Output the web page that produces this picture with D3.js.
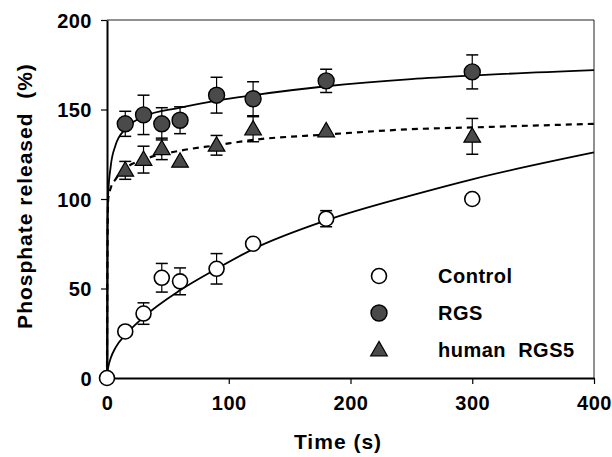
<!DOCTYPE html>
<html>
<head>
<meta charset="utf-8">
<script src="https://cdn.jsdelivr.net/npm/d3@7"></script>
<style>
  body { margin: 0; background: #fff; }
  text { font-family: Arial, "Liberation Sans", Helvetica, sans-serif; font-weight: bold; fill: #000; white-space: pre; }
</style>
</head>
<body>
<svg id="chart" width="612" height="457"></svg>
<script>
// measured points (time in s, phosphate released %, error)
var timesCtrl = [0, 15, 30, 45, 60, 90, 120, 180, 300];
var ctrlVals = [0, 26, 36, 56, 54, 61, 75, 89, 100];
var ctrlErr = [0, 0, 6, 8, 7.5, 8.5, 0, 4.5, 0];

var timesRgs = [15, 30, 45, 60, 90, 120, 180, 300];
var rgsVals = [142, 147, 142, 144, 158, 156, 166, 171];
var rgsErr = [7, 11, 9, 7.5, 10, 9.5, 6.5, 9.5];

var rgs5Vals = [116, 122, 128, 121, 130, 139, 138, 135];
var rgs5Err = [5, 7.5, 6, 0, 5.5, 7, 0, 10];

// fitted curves
var fitTimes = [0, 0.3, 1, 3, 7, 15, 30, 60, 90, 120, 180, 250, 300, 400];
var fitCtrl = [0, 3, 6, 11, 17, 24, 34, 49, 61, 72, 88, 102, 111, 126];
var fitRgs = [0, 80, 103, 118, 130, 139, 146, 151, 155, 158, 163, 167, 169, 172];
var fitRgs5 = [0, 60, 100, 106, 111, 117, 122, 127, 130, 133, 136, 139, 140, 142];

var xTicks = [0, 100, 200, 300, 400];
var yTicks = [0, 50, 100, 150, 200];

var legendItems = ["Control", "RGS", "human  RGS5"];

var svg = d3.select("#chart");
var plotLeft = 107, plotRight = 594, plotTop = 20, plotBottom = 378;

var x = d3.scaleLinear().domain([0, 400]).range([plotLeft, plotRight]);
var y = d3.scaleLinear().domain([0, 200]).range([plotBottom, plotTop]);

// frame
svg.append("line").attr("x1", plotLeft).attr("x2", plotRight).attr("y1", plotTop).attr("y2", plotTop)
    .attr("stroke", "#222").attr("stroke-width", 1);
svg.append("line").attr("x1", plotRight).attr("x2", plotRight).attr("y1", plotTop).attr("y2", plotBottom)
    .attr("stroke", "#222").attr("stroke-width", 1);

var xAxis = svg.append("g").attr("transform", "translate(0," + plotBottom + ")")
    .call(d3.axisBottom(x).tickValues(xTicks).tickSize(6).tickPadding(12).tickSizeOuter(0));
var yAxis = svg.append("g").attr("transform", "translate(" + plotLeft + ",0)")
    .call(d3.axisLeft(y).tickValues(yTicks).tickSize(6).tickPadding(9).tickSizeOuter(0));

[xAxis, yAxis].forEach(function (ax) {
    ax.select(".domain").attr("stroke", "#000").attr("stroke-width", 2);
    ax.selectAll(".tick line").attr("stroke", "#000").attr("stroke-width", 1.2);
    ax.selectAll(".tick text").style("font-size", "20px").style("letter-spacing", "0.5px")
        .style("font-family", "Arial, 'Liberation Sans', sans-serif").style("font-weight", "bold");
});
yAxis.selectAll(".tick text").attr("dy", "0.36em");

// axis titles
svg.append("text").attr("x", 338).attr("y", 449).attr("text-anchor", "middle")
    .style("font-size", "21px").style("letter-spacing", "1px").text("Time (s)");
svg.append("text").attr("transform", "translate(32,196) rotate(-90)").attr("text-anchor", "middle")
    .style("font-size", "21px").style("letter-spacing", "1px").text("Phosphate released  (%)");

// fit lines
var line = function (vals) {
    return d3.line().x(function (d, i) { return x(fitTimes[i]); })
        .y(function (d) { return y(d); }).curve(d3.curveMonotoneX)(vals);
};
svg.append("path").attr("d", line(fitCtrl)).attr("fill", "none").attr("stroke", "#000").attr("stroke-width", 1.8);
svg.append("path").attr("d", line(fitRgs)).attr("fill", "none").attr("stroke", "#000").attr("stroke-width", 1.8);
svg.append("path").attr("d", line(fitRgs5)).attr("fill", "none").attr("stroke", "#000")
    .attr("stroke-width", 2.2).attr("stroke-dasharray", "6,5");

// error bars
function errorBars(times, vals, errs) {
    for (var i = 0; i < times.length; i++) {
        if (!errs[i]) continue;
        var cx = x(times[i]);
        var y1 = y(vals[i] + errs[i]), y2 = y(vals[i] - errs[i]);
        svg.append("line").attr("x1", cx).attr("x2", cx).attr("y1", y1).attr("y2", y2)
            .attr("stroke", "#000").attr("stroke-width", 1.2);
        [y1, y2].forEach(function (yy) {
            svg.append("line").attr("x1", cx - 6).attr("x2", cx + 6).attr("y1", yy).attr("y2", yy)
                .attr("stroke", "#000").attr("stroke-width", 1.5);
        });
    }
}
errorBars(timesCtrl, ctrlVals, ctrlErr);
errorBars(timesRgs, rgsVals, rgsErr);
errorBars(timesRgs, rgs5Vals, rgs5Err);

var triangle = d3.symbol().type(d3.symbolTriangle).size(120);

function drawMarker(kind, cx, cy) {
    if (kind == 0) {
        svg.append("circle").attr("cx", cx).attr("cy", cy).attr("r", 7.5)
            .attr("fill", "#fff").attr("stroke", "#000").attr("stroke-width", 1.6);
    } else if (kind == 1) {
        svg.append("circle").attr("cx", cx).attr("cy", cy).attr("r", 8)
            .attr("fill", "#4a4a4a").attr("stroke", "#000").attr("stroke-width", 1.4);
    } else {
        svg.append("path").attr("d", triangle()).attr("transform", "translate(" + cx + "," + (cy + 1) + ")")
            .attr("fill", "#4a4a4a").attr("stroke", "#000").attr("stroke-width", 1.2);
    }
}

timesCtrl.forEach(function (t, i) { drawMarker(0, x(t), y(ctrlVals[i])); });
timesRgs.forEach(function (t, i) { drawMarker(2, x(t), y(rgs5Vals[i])); });
timesRgs.forEach(function (t, i) { drawMarker(1, x(t), y(rgsVals[i])); });

// legend
legendItems.forEach(function (name, i) {
    var ly = 276 + i * 37;
    drawMarker(i, 379, ly);
    svg.append("text").attr("x", 438).attr("y", ly + 7).style("font-size", "20px")
        .style("letter-spacing", "0.5px").text(name);
});
</script>
</body>
</html>
